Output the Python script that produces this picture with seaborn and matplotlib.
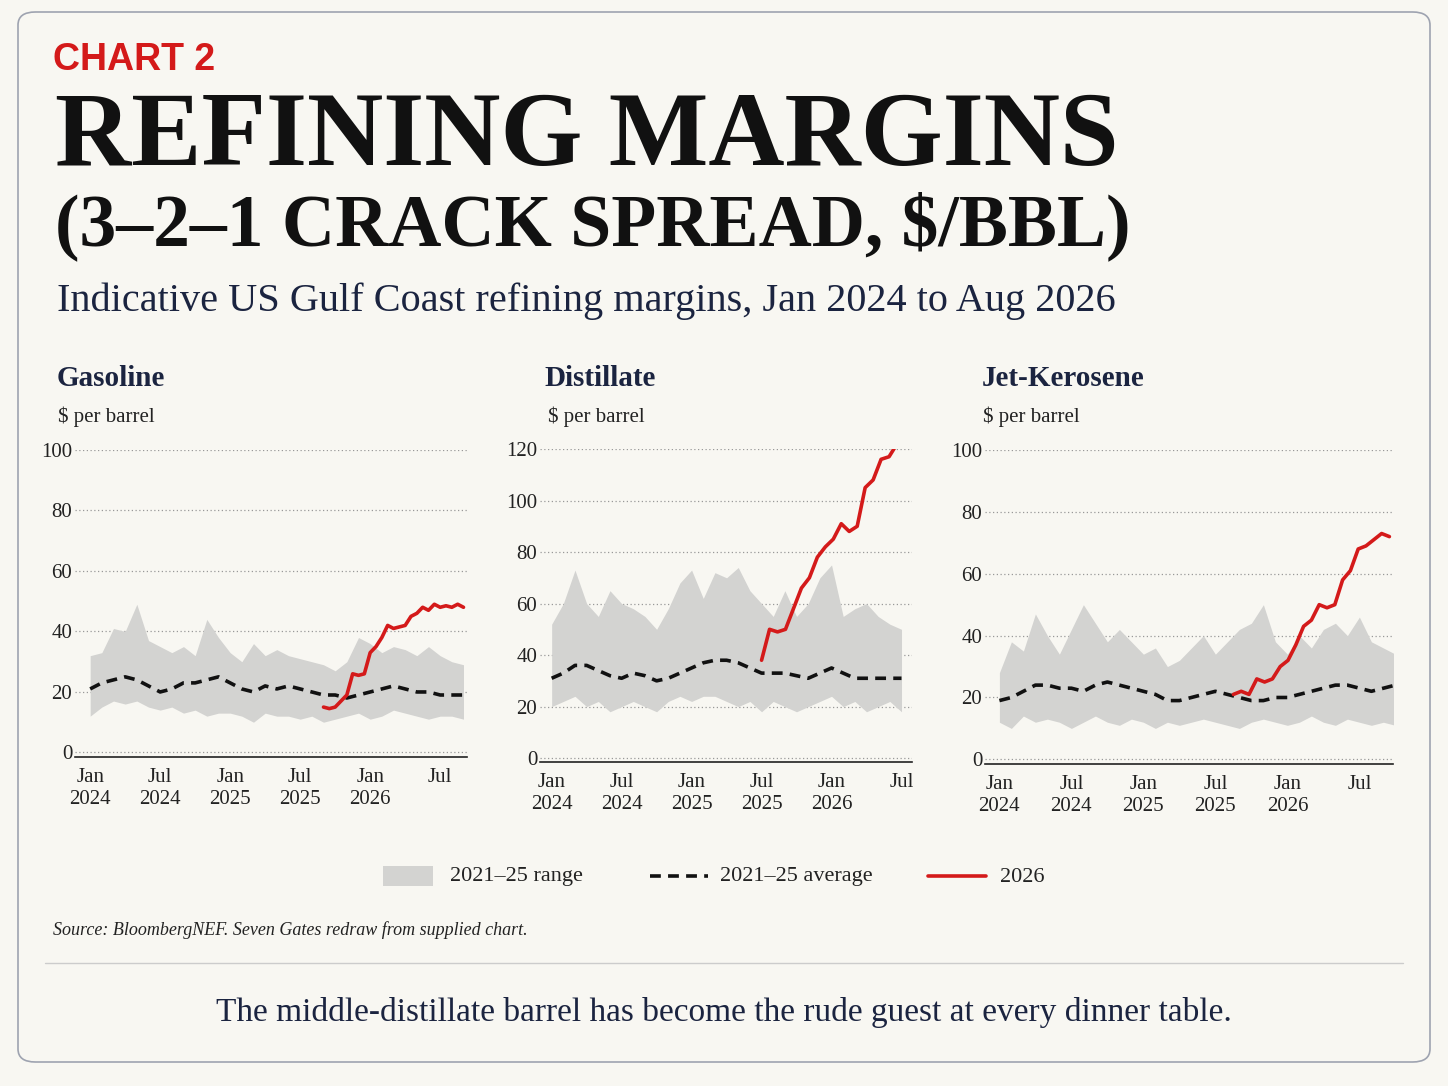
import numpy as np
import pandas as pd
import matplotlib
matplotlib.use("Agg")
import matplotlib.pyplot as plt
import seaborn as sns
from matplotlib.patches import FancyBboxPatch, Rectangle
from matplotlib.lines import Line2D

sns.set_theme(style="white")
plt.rcParams['font.family'] = ['Liberation Serif', 'DejaVu Serif']

# ---------------- data ----------------
tick_months = [0, 6, 12, 18, 24, 30]
tick_labels = ["Jan\n2024", "Jul\n2024", "Jan\n2025", "Jul\n2025", "Jan\n2026", "Jul"]

gas_avg = [21,23,24,25,24,22,20,21,23,23,24,25,23,21,20,22,21,22,21,20,19,19,18,19,20,21,22,21,20,20,19,19,19]
gas_hi  = [32,33,41,40,49,37,35,33,35,32,44,38,33,30,36,32,34,32,31,30,29,27,30,38,36,33,35,34,32,35,32,30,29]
gas_lo  = [12,15,17,16,17,15,14,15,13,14,12,13,13,12,10,13,12,12,11,12,10,11,12,13,11,12,14,13,12,11,12,12,11]
gas_26_start, gas_26_end = 20.0, 32.0
gas_26 = [15,14.5,15,17,19,26,25.5,26,33,35,38,42,41,41.5,42,45,46,48,47,49,48,48.5,48,49,48]

dis_avg = [31,33,36,36,34,32,31,33,32,30,31,33,35,37,38,38,37,35,33,33,33,32,31,33,35,33,31,31,31,31,31]
dis_hi  = [52,60,73,60,55,65,60,58,55,50,58,68,73,62,72,70,74,65,60,55,65,55,60,70,75,55,58,60,55,52,50]
dis_lo  = [20,22,24,20,22,18,20,22,20,18,22,24,22,24,24,22,20,22,18,22,20,18,20,22,24,20,22,18,20,22,18]
dis_26_start, dis_26_end = 18.0, 30.3
dis_26 = [38,50,49,50,58,66,70,78,82,85,91,88,90,105,108,116,117,122,124]

jet_avg = [19,20,22,24,24,23,23,22,24,25,24,23,22,21,19,19,20,21,22,21,20,19,19,20,20,21,22,23,24,24,23,22,23,24]
jet_hi  = [28,38,35,47,40,34,42,50,44,38,42,38,34,36,30,32,36,40,34,38,42,44,50,38,34,40,36,42,44,40,46,38,36,34]
jet_lo  = [12,10,14,12,13,12,10,12,14,12,11,13,12,10,12,11,12,13,12,11,10,12,13,12,11,12,14,12,11,13,12,11,12,11]
jet_26_start, jet_26_end = 19.5, 32.5
jet_26 = [21,22,21,26,25,26,30,32,37,43,45,50,49,50,58,61,68,69,71,73,72]

panels = [
    dict(name="Gasoline", avg=gas_avg, hi=gas_hi, lo=gas_lo, s=gas_26_start, e=gas_26_end, cur=gas_26,
         rect=(75, 450, 467, 757), xlim=(-1.3, 32.3), ylim=(0, 100), yt=[0,20,40,60,80,100],
         title_xy=(57, 378), unit_xy=(58, 417)),
    dict(name="Distillate", avg=dis_avg, hi=dis_hi, lo=dis_lo, s=dis_26_start, e=dis_26_end, cur=dis_26,
         rect=(540, 449, 912, 762), xlim=(-1.0, 30.9), ylim=(0, 120), yt=[0,20,40,60,80,100,120],
         title_xy=(544, 379), unit_xy=(548, 417)),
    dict(name="Jet-Kerosene", avg=jet_avg, hi=jet_hi, lo=jet_lo, s=jet_26_start, e=jet_26_end, cur=jet_26,
         rect=(985, 450, 1393, 764), xlim=(-1.2, 32.8), ylim=(0, 100), yt=[0,20,40,60,80,100],
         title_xy=(982, 379), unit_xy=(983, 417)),
]

W, H = 1448, 1086
BG = "#f8f7f2"
NAVY = "#1b2440"
fig = plt.figure(figsize=(W/100, H/100), dpi=100, facecolor=BG)

def fx(x): return x / W
def fy(y): return 1 - y / H

border = FancyBboxPatch((fx(18), fy(1062)), fx(1430)-fx(18), fy(12)-fy(1062),
                        boxstyle="round,pad=0,rounding_size=0.012",
                        transform=fig.transFigure, facecolor=BG, edgecolor="#9ea3b0", lw=1.2, zorder=-10)
fig.patches.append(border)

for p in panels:
    l, t, r, b = p["rect"]
    ax = fig.add_axes([fx(l), fy(b), fx(r)-fx(l), fy(t)-fy(b)])
    ax.set_zorder(5)
    ax.set_facecolor("none")
    m = np.arange(len(p["avg"]))
    ax.fill_between(m, p["lo"], p["hi"], color="#d3d3d1", lw=0, zorder=1)
    sns.lineplot(x=m, y=p["avg"], ax=ax, color="#111111", lw=2.6, linestyle=(0, (3, 2)), zorder=3)
    xc = np.linspace(p["s"], p["e"], len(p["cur"]))
    sns.lineplot(x=xc, y=p["cur"], ax=ax, color="#d41a1a", lw=2.6, zorder=4)
    ax.set_xlim(*p["xlim"])
    ax.set_ylim(p["ylim"][0] - 1.5, p["ylim"][1])
    ax.set_yticks(p["yt"])
    ax.set_xticks(tick_months)
    ax.set_xticklabels(tick_labels)
    ax.tick_params(axis="both", labelsize=15, colors="#222222", length=0)
    ax.tick_params(axis="x", pad=8)
    ax.tick_params(axis="y", pad=2)
    ax.yaxis.grid(True, linestyle=(0, (1, 2)), color="#999999", lw=0.9)
    ax.xaxis.grid(False)
    for s in ["top", "right", "left"]:
        ax.spines[s].set_visible(False)
    ax.spines["bottom"].set_color("#222222")
    ax.spines["bottom"].set_linewidth(1.2)
    ax.set_xlabel(""); ax.set_ylabel("")
    fig.text(fx(p["title_xy"][0]), fy(p["title_xy"][1]), p["name"], fontsize=21, fontweight="bold",
             color=NAVY, va="center")
    fig.text(fx(p["unit_xy"][0]), fy(p["unit_xy"][1]), "$ per barrel", fontsize=15, color="#222222", va="center")

fig.text(fx(53), fy(60), "CHART 2", fontsize=27, fontweight="bold", color="#d41a1a", va="center",
         family=["Liberation Sans", "DejaVu Sans"])
fig.text(fx(55), fy(140), "REFINING MARGINS", fontsize=76, fontweight="bold", color="#111111", va="center")
fig.text(fx(55), fy(226), "(3–2–1 CRACK SPREAD, $/BBL)", fontsize=53, fontweight="bold", color="#111111", va="center")
fig.text(fx(57), fy(301), "Indicative US Gulf Coast refining margins, Jan 2024 to Aug 2026", fontsize=29,
         color=NAVY, va="center")

# legend
fig.patches.append(Rectangle((fx(383), fy(886)), fx(433)-fx(383), fy(866)-fy(886), transform=fig.transFigure,
                             facecolor="#d3d3d1", edgecolor="none"))
fig.text(fx(450), fy(877), "2021–25 range", fontsize=16, color="#222222", va="center")
fig.lines.append(Line2D([fx(650), fx(708)], [fy(876), fy(876)], transform=fig.transFigure,
                        color="#111111", lw=2.6, linestyle=(0, (3, 2))))
fig.text(fx(720), fy(877), "2021–25 average", fontsize=16, color="#222222", va="center")
fig.lines.append(Line2D([fx(928), fx(986)], [fy(876), fy(876)], transform=fig.transFigure,
                        color="#d41a1a", lw=2.6))
fig.text(fx(1000), fy(877), "2026", fontsize=16, color="#222222", va="center")

fig.text(fx(53), fy(930), "Source: BloombergNEF. Seven Gates redraw from supplied chart.", fontsize=13,
         style="italic", color="#222222", va="center")
fig.lines.append(Line2D([fx(45), fx(1403)], [fy(963), fy(963)], transform=fig.transFigure,
                        color="#cccccc", lw=1))
fig.text(0.5, fy(1013), "The middle-distillate barrel has become the rude guest at every dinner table.",
         fontsize=24, color=NAVY, va="center", ha="center")

fig.savefig("out.png", dpi=100, facecolor=BG)
